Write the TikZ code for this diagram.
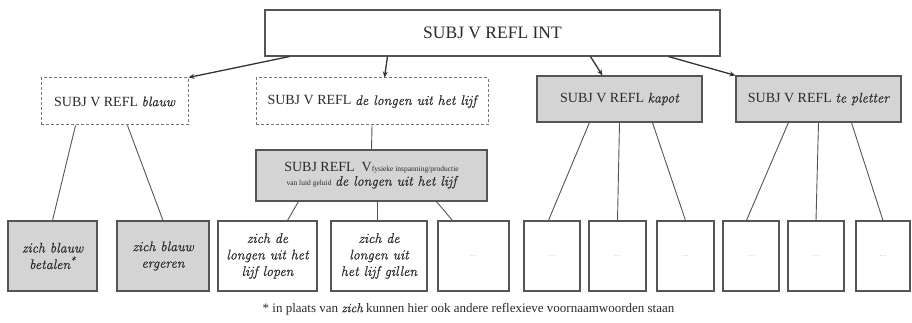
\documentclass[tikz,border=0pt]{standalone}
\usepackage{fontspec}
\setmainfont{Liberation Serif}
\newfontfamily\itfam{Latin Modern Roman}[FakeBold=0.3]
\newcommand{\itx}[1]{{\itfam\itshape #1}}
\usetikzlibrary{arrows.meta,calc}
\definecolor{boxgray}{HTML}{D4D4D4}
\definecolor{edgegray}{HTML}{555555}
\definecolor{inkgray}{HTML}{2A2A2A}
\tikzset{
  basebox/.style={draw=edgegray, line width=1.1pt, inner sep=0pt, align=center, text=inkgray},
  topbox/.style={basebox, fill=white, font=\fontsize{17.5}{19}\selectfont},
  dashbox/.style={basebox, draw=edgegray!80, dash pattern=on 3pt off 2pt, line width=1pt, fill=white, font=\fontsize{14}{16}\selectfont},
  graybox/.style={basebox, fill=boxgray, font=\fontsize{14}{16}\selectfont},
  leafgray/.style={basebox, fill=boxgray, minimum height=70pt, font=\fontsize{14}{16.5}\selectfont\itfam\itshape},
  leafwhite/.style={basebox, fill=white, minimum height=70pt, font=\fontsize{14}{16.5}\selectfont\itfam\itshape},
  dotsbox/.style={basebox, fill=white, minimum height=70pt, font=\fontsize{7}{8}\selectfont, text=black!35},
  arr/.style={draw=black!80, line width=1.3pt, -{Stealth[length=6pt,width=5pt]}},
  link/.style={draw=edgegray, line width=0.9pt},
}
\begin{document}
\begin{tikzpicture}[x=1pt,y=-1pt]
\useasboundingbox (0,0) rectangle (912,323);

\node[topbox, minimum width=455pt, minimum height=46pt] (top) at (492.5,33) {SUBJ V REFL INT};

\node[dashbox, minimum width=147pt, minimum height=47pt] (blauw) at (114.5,101.5) {SUBJ V REFL \itx{blauw}};
\node[dashbox, minimum width=232pt, minimum height=47pt] (longen) at (372,101.5) {SUBJ V REFL \itx{de longen uit het lijf}};
\node[graybox, minimum width=165pt, minimum height=46pt] (kapot) at (619.5,99) {SUBJ V REFL \itx{kapot}};
\node[graybox, minimum width=165pt, minimum height=46pt] (pletter) at (818.5,99) {SUBJ V REFL \itx{te pletter}};

\node[graybox, minimum width=231pt, minimum height=51pt] (mid) at (371.5,175.5)
  {SUBJ REFL\ \ V{\fontsize{7.5}{8}\selectfont fysieke inspanning/productie}\\[-2pt]
   {\fontsize{7.5}{8}\selectfont van luid geluid} {\fontsize{14}{16}\selectfont\itx{de longen uit het lijf}}};

\node[leafgray, minimum width=89pt] (b1) at (52.5,256) {zich blauw\\betalen\textsuperscript{*}};
\node[leafgray, minimum width=92pt] (b2) at (163,256) {zich blauw\\ergeren};
\node[leafwhite, minimum width=99pt] (b3) at (267.5,256) {zich de\\longen uit het\\lijf lopen};
\node[leafwhite, minimum width=96pt] (b4) at (379,256) {zich de\\longen uit\\het lijf gillen};
\node[dotsbox, minimum width=71pt] (b5) at (473.5,256) {\dots};
\node[dotsbox, minimum width=56pt] (b6) at (552,256) {\dots};
\node[dotsbox, minimum width=57pt] (b7) at (617.5,256) {\dots};
\node[dotsbox, minimum width=57pt] (b8) at (685.5,256) {\dots};
\node[dotsbox, minimum width=56pt] (b9) at (751,256) {\dots};
\node[dotsbox, minimum width=56pt] (b10) at (816,256) {\dots};
\node[dotsbox, minimum width=54pt] (b11) at (883,256) {\dots};

\node[font=\fontsize{13}{14}\selectfont, text=inkgray] (foot) at (468.5,309)
  {* in plaats van \itx{zich} kunnen hier ook andere reflexieve voornaamwoorden staan};

% arrows
\draw[arr] ([xshift=25pt]top.south west) -- (blauw.north east);
\draw[arr] ([xshift=123pt]top.south west) -- ([xshift=129pt]longen.north west);
\draw[arr] ([xshift=326pt]top.south west) -- ([xshift=66pt]kapot.north west);
\draw[arr] ([xshift=404pt]top.south west) -- (pletter.north west);

% links
\draw[link] ([xshift=35pt]blauw.south west) -- (b1.north);
\draw[link] ([xshift=87pt]blauw.south west) -- (b2.north);
\draw[link] (longen.south) -- (mid.north);
\draw[link] ([xshift=43pt]mid.south west) -- ([xshift=20pt]b3.north);
\draw[link] ([xshift=122pt]mid.south west) -- ([xshift=122pt]mid.south west |- b4.north);
\draw[link] ([xshift=181pt]mid.south west) -- ([xshift=15pt]b5.north west);
\draw[link] ([xshift=53pt]kapot.south west) -- ([xshift=25pt]b6.north west);
\draw[link] (kapot.south) -- (b7.north);
\draw[link] ([xshift=116pt]kapot.south west) -- (b8.north);
\draw[link] ([xshift=53pt]pletter.south west) -- ([xshift=24pt]b9.north west);
\draw[link] (pletter.south) -- (b10.north);
\draw[link] ([xshift=116pt]pletter.south west) -- (b11.north);
\end{tikzpicture}
\end{document}
